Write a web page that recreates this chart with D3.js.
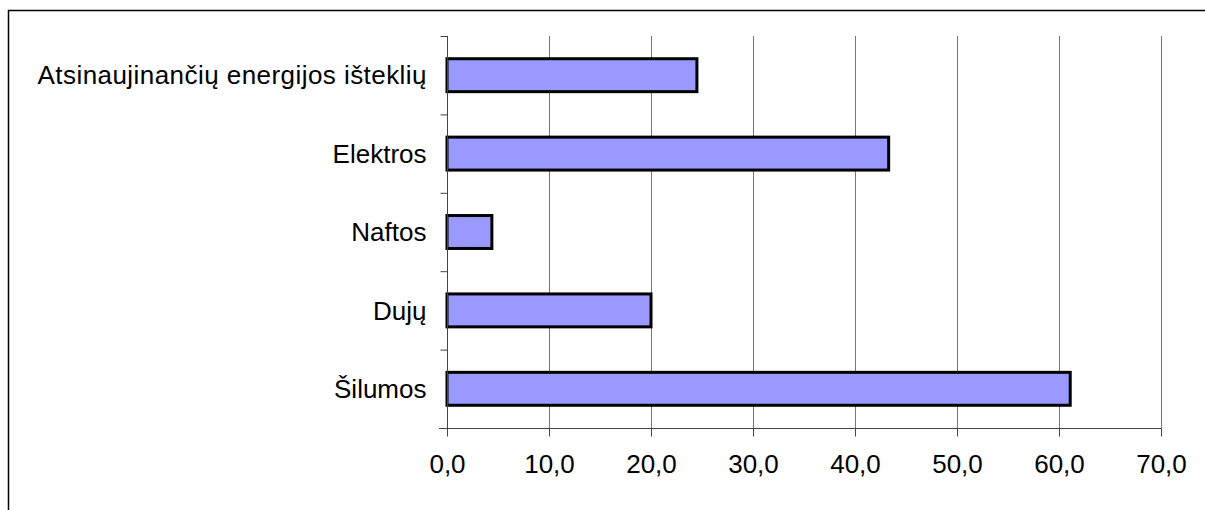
<!DOCTYPE html>
<html>
<head>
<meta charset="utf-8">
<script src="https://cdn.jsdelivr.net/npm/d3@7"></script>
<style>
  html, body { margin: 0; padding: 0; background: #fff; }
  svg text { font-family: "Liberation Sans", Arial, sans-serif; fill: #000; }
</style>
</head>
<body>
<div id="chart"></div>
<script>
// categories top to bottom
const categories = ['Atsinaujinančių energijos išteklių', 'Elektros', 'Naftos', 'Dujų', 'Šilumos'];
const values = [24.5, 43.3, 4.4, 20.0, 61.1];
const xTicks = [0, 10, 20, 30, 40, 50, 60, 70];

const width = 1205, height = 510;
const plot = { left: 447, right: 1161, top: 36, bottom: 428 };

const svg = d3.select('#chart').append('svg')
    .attr('width', width)
    .attr('height', height);

// outer frame (only top and left edges are visible)
svg.append('path')
    .attr('d', `M8.5,${height} L8.5,10.5 L${width},10.5`)
    .attr('fill', 'none')
    .attr('stroke', '#000')
    .attr('stroke-width', 1.5);

const x = d3.scaleLinear().domain([0, 70]).range([plot.left, plot.right]);
const y = d3.scaleBand().domain(categories).range([plot.top, plot.bottom]).paddingInner(0.58).paddingOuter(0.29);
const yOuter = d3.scaleBand().domain(categories).range([plot.top, plot.bottom]);

// vertical gridlines
svg.append('g')
    .selectAll('line')
    .data(xTicks.slice(1))
    .join('line')
    .attr('x1', d => x(d) + 0.5)
    .attr('x2', d => x(d) + 0.5)
    .attr('y1', plot.top)
    .attr('y2', plot.bottom)
    .attr('stroke', '#777')
    .attr('stroke-width', 1);

// bars
svg.append('g')
    .selectAll('rect')
    .data(categories)
    .join('rect')
    .attr('x', x(0))
    .attr('y', d => y(d))
    .attr('width', (d, i) => x(values[i]) - x(0))
    .attr('height', y.bandwidth())
    .attr('fill', '#9999ff')
    .attr('stroke', '#000')
    .attr('stroke-width', 3);

// x axis
const xAxis = svg.append('g')
    .attr('transform', `translate(0,${plot.bottom + 0.5})`)
    .call(d3.axisBottom(x).tickValues(xTicks).tickSize(8).tickPadding(18)
        .tickFormat(d => d3.format('.1f')(d).replace('.', ',')));
xAxis.select('.domain').attr('stroke', '#444').attr('d', `M${plot.left - 8},0H${plot.right + 0.5}`);
xAxis.selectAll('.tick line').attr('stroke', '#444');
xAxis.selectAll('text').attr('font-size', 26);

// y axis: ticks sit between categories
const yAxis = svg.append('g')
    .attr('transform', `translate(${plot.left + 0.5},0)`);
yAxis.append('line')
    .attr('y1', plot.top).attr('y2', plot.bottom)
    .attr('stroke', '#444');
const bounds = categories.map(c => yOuter(c)).concat([plot.bottom]);
yAxis.selectAll('line.tk')
    .data(bounds)
    .join('line')
    .attr('class', 'tk')
    .attr('x1', -7).attr('x2', 0)
    .attr('y1', d => d + 0.5).attr('y2', d => d + 0.5)
    .attr('stroke', '#444');
yAxis.selectAll('text')
    .data(categories)
    .join('text')
    .attr('x', -21)
    .attr('y', d => yOuter(d) + yOuter.bandwidth() / 2)
    .attr('dy', '0.35em')
    .attr('text-anchor', 'end')
    .attr('font-size', 26)
    .attr('textLength', d => d === categories[0] ? 389 : null)
    .text(d => d);
</script>
</body>
</html>
